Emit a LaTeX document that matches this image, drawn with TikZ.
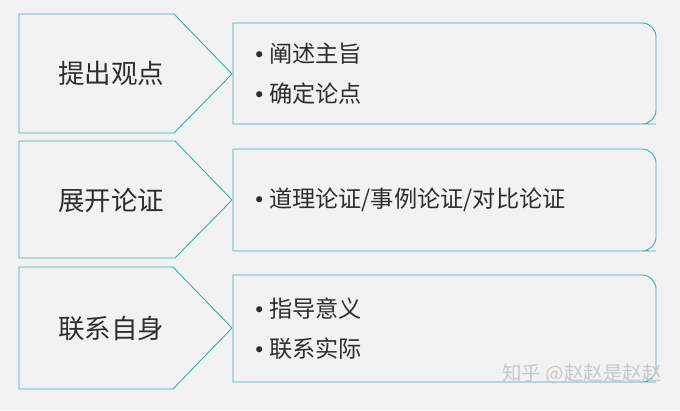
\documentclass[tikz,border=0pt]{standalone}
\usepackage{fontspec}
\setmainfont{Noto Sans CJK SC}
\newfontfamily\bulfont{DejaVu Sans}
\definecolor{bg}{RGB}{242,242,242}
\definecolor{edge}{RGB}{60,170,175}
\definecolor{ink}{RGB}{45,45,45}
\definecolor{wm}{RGB}{200,200,200}
\newcommand{\bul}{{\bulfont\fontsize{21}{24}\selectfont •}\hspace{3.5pt}}
\begin{document}
\begin{tikzpicture}[x=1pt,y=-1pt,
  shapeline/.style={draw=edge,line width=0.9pt},
  lefttext/.style={text=ink,font=\fontsize{26.5}{30}\selectfont,inner sep=0pt},
  bultext/.style={text=ink,font=\fontsize{23.2}{26}\selectfont,inner sep=0pt,anchor=west},
]
\fill[bg] (0,0) rectangle (680,410);
\useasboundingbox (0,0) rectangle (680,410);
% row 1
\draw[shapeline] (19,14) -- (174,14) -- (232,74) -- (174,133) -- (19,133) -- cycle;
\draw[shapeline] (233,23) -- (642,23) [rounded corners=14pt]-- (656,23) -- (656,124) -- (642,124) [sharp corners]-- (233,124) -- cycle;
\node[lefttext] (a) at (111,73) {提出观点};
\node[bultext] (a1) at (253,54) {\bul 阐述主旨};
\node[bultext] (a2) at (253,94) {\bul 确定论点};
% row 2
\draw[shapeline] (19,141) -- (175,141) -- (232,200) -- (175,258) -- (19,258) -- cycle;
\draw[shapeline] (233,149) -- (642,149) [rounded corners=14pt]-- (656,149) -- (656,251) -- (642,251) [sharp corners]-- (233,251) -- cycle;
\node[lefttext] (b) at (111,200) {展开论证};
\node[bultext] (b1) at (253,200) {\bul 道理论证/事例论证/对比论证};
% row 3
\draw[shapeline] (19,267) -- (173,267) -- (232,328) -- (173,389) -- (19,389) -- cycle;
\draw[shapeline] (233,275) -- (642,275) [rounded corners=14pt]-- (656,275) -- (656,382) -- (642,382) [sharp corners]-- (233,382) -- cycle;
\node[lefttext] (c) at (111,328) {联系自身};
\node[bultext] (c1) at (253,309) {\bul 指导意义};
\node[bultext] (c2) at (253,349) {\bul 联系实际};
% watermark
\node[text=wm,font=\fontsize{19.5}{22}\selectfont,inner sep=0pt,anchor=east] (w) at (662,374) {知乎 @赵赵是赵赵};
\end{tikzpicture}
\end{document}
